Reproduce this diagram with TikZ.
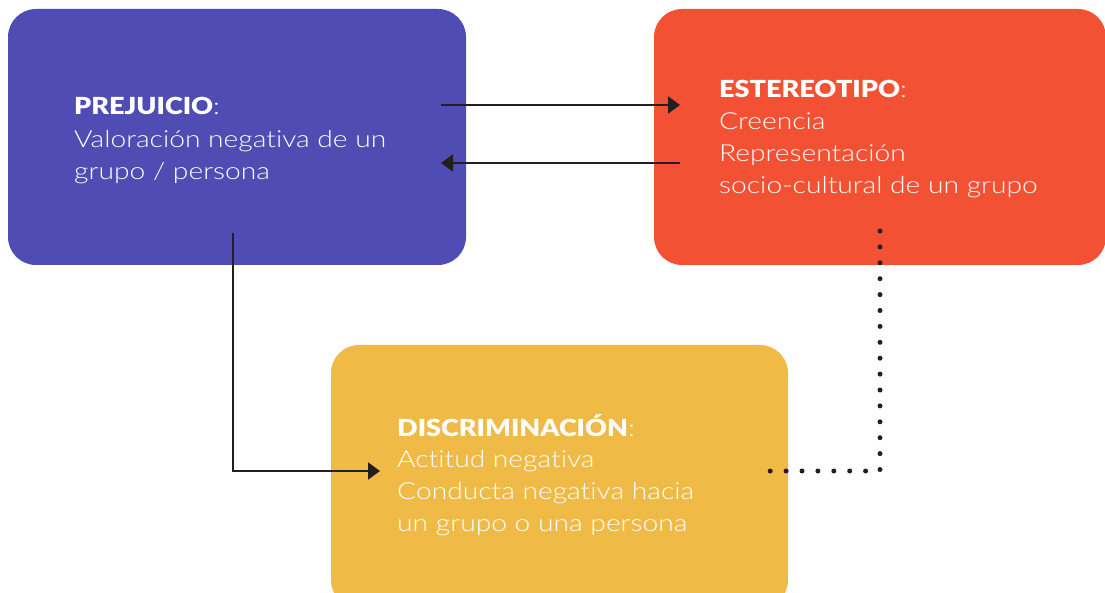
\documentclass[tikz,border=0pt]{standalone}
\usepackage{fontspec}
\setmainfont{Lato Light}[FakeStretch=1.2, Ligatures=NoCommon, BoldFont={Lato Black}, BoldFeatures={FakeStretch=1.15}]
\usetikzlibrary{arrows.meta}
\definecolor{cpurple}{HTML}{4F4DB3}
\definecolor{cred}{HTML}{F25133}
\definecolor{cyellow}{HTML}{F0BA47}
\definecolor{cline}{HTML}{231F20}
\tikzset{
  box/.style={rounded corners=28pt, draw=none},
  txt/.style={anchor=base west, inner sep=0pt, text=white, font=\fontsize{23.5}{28}\selectfont},
  ttl/.style={txt, font=\fontsize{23.5}{28}\selectfont\bfseries},
  conn/.style={draw=cline, line width=2.2pt, -{Triangle[length=12pt,width=17pt]}},
  dots/.style={draw=cline, line width=5pt, line cap=round, dash pattern=on 0pt off 15.9pt}
}
\begin{document}
\begin{tikzpicture}[x=1pt,y=-1pt]
\useasboundingbox (0,0) rectangle (1105,593);
\fill[white] (0,0) rectangle (1105,593);
% boxes
\fill[box, cpurple] (8,9) rectangle (466,265);
\fill[box, cred] (654,9) rectangle (1106,265);
\fill[box, cyellow] (331,345) rectangle (788,608);
\node[inner sep=0, minimum size=0] (pbox) at (237,137) {};
\node[inner sep=0, minimum size=0] (sbox) at (880,137) {};
\node[inner sep=0, minimum size=0] (dbox) at (560,470) {};
% texts
\node[ttl] (p0) at (74,115) {PREJUICIO\mdseries:};
\node[txt] (p1) at (74,148) {Valoración negativa de un};
\node[txt] (p2) at (74,180) {grupo / persona};
\node[ttl] (s0) at (719,98) {ESTEREOTIPO\mdseries:};
\node[txt] (s1) at (719,130) {Creencia};
\node[txt] (s2) at (719,162) {Representación};
\node[txt] (s3) at (719,194) {socio-cultural de un grupo};
\node[ttl] (d0) at (397,436) {DISCRIMINACIÓN\mdseries:};
\node[txt] (d1) at (397,467) {Actitud negativa};
\node[txt] (d2) at (397,499) {Conducta negativa hacia};
\node[txt] (d3) at (397,531) {un grupo o una persona};
% connectors
\coordinate (a1s) at (441,105);
\coordinate (a1e) at (680,105);
\coordinate (a2s) at (680,163);
\coordinate (a2e) at (441,163);
\coordinate (a3s) at (233,233);
\coordinate (a3e) at (380,471);
\coordinate (a4s) at (880,231);
\coordinate (a4e) at (768,471);
\draw[conn] (a1s) -- (a1e);
\draw[conn] (a2s) -- (a2e);
\draw[conn] (a3s) |- (a3e);
\draw[dots] (a4s) |- (a4e);
\end{tikzpicture}
\end{document}
